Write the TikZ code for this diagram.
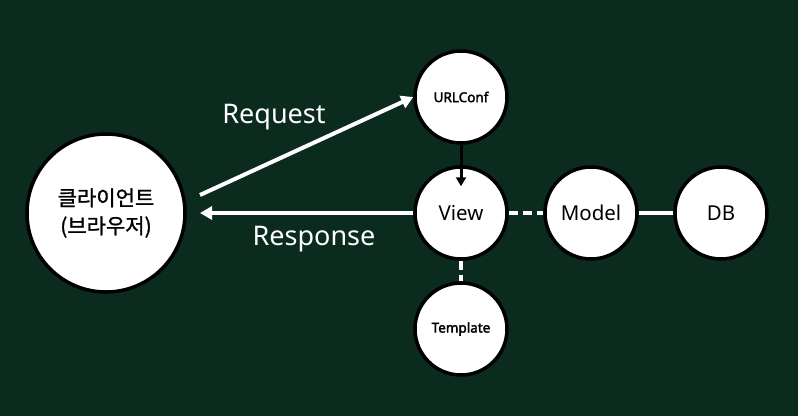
\documentclass[tikz,border=0pt]{standalone}
\usepackage{fontspec}
\setmainfont{Noto Sans}
\newfontfamily\krfont{Noto Sans CJK KR}[FakeBold=1.2]
\newfontfamily\semibold{Noto Sans}[FakeBold=2.4]
\usetikzlibrary{arrows.meta}
\definecolor{bgcol}{RGB}{11,43,31}
\tikzset{
  bubble/.style={circle, draw=black, fill=white, line width=3.5pt, minimum size=92pt, inner sep=0pt, text=black, align=center},
  bigbubble/.style={bubble, minimum size=158pt},
  whiteline/.style={draw=white, line width=4pt},
  whitearrow/.style={whiteline, -{Triangle[length=12pt,width=13pt]}},
  whitedash/.style={whiteline, dash pattern=on 9pt off 5pt},
  blackarrow/.style={draw=black, line width=3pt, -{Triangle[length=9pt,width=10pt]}},
  biglabel/.style={text=white, font=\fontsize{27}{32}\selectfont, inner sep=0pt},
  midtext/.style={font=\fontsize{20.5}{24}\selectfont},
  smalltext/.style={font=\semibold\fontsize{13.5}{16}\selectfont},
}
\begin{document}
\begin{tikzpicture}[x=1pt,y=-1pt]
\fill[bgcol] (0,0) rectangle (798,416);
\useasboundingbox (0,0) rectangle (798,416);
% nodes
\node[bigbubble, font=\krfont\fontsize{21}{28}\selectfont] (client) at (106,213) {클라이언트\\(브라우저)};
\node[bubble, smalltext] (urlconf) at (461,97) {URLConf};
\node[bubble, midtext] (view) at (461,213) {View};
\node[bubble, midtext] (model) at (591,213) {Model};
\node[bubble, midtext] (db) at (721,213) {DB};
\node[bubble, smalltext] (template) at (461,329) {Template};
% free ends
\coordinate (reqstart) at (200,195);
\coordinate (respend) at (200,213);
% connectors
\draw[whitearrow] (reqstart) -- (urlconf.west);
\draw[whitearrow] (view) -- (respend);
\draw[whitedash] (view) -- (model);
\draw[whitedash] (view) -- (template);
\draw[whiteline] (model) -- (db);
\draw[blackarrow] (urlconf.south) -- ([yshift=-21pt]view.north);
% labels
\node[biglabel] (req) at (274,117) {Request};
\node[biglabel] (resp) at (314,239) {Response};
\end{tikzpicture}
\end{document}
